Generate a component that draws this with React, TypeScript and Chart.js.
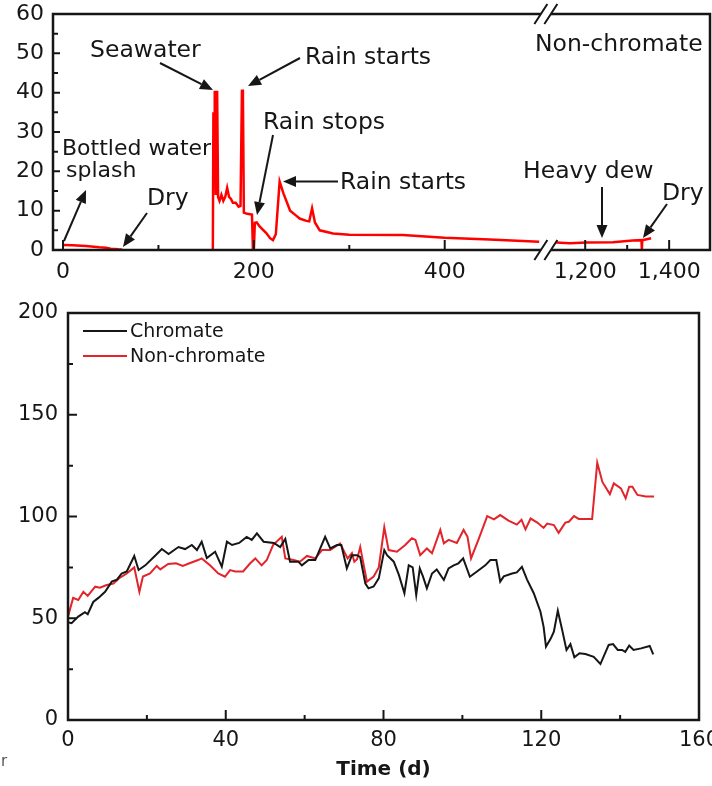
import React, { useEffect, useRef } from "react";
import { Chart, registerables } from "chart.js";

Chart.register(...registerables);

const FONT = '"DejaVu Sans", "Liberation Sans", sans-serif';

// ---------------- Top panel (non-chromate sensor) ----------------
const topDays = [
  0, 10, 24, 38, 45, 50, 58, 62, 100,
  157, 157.6, 158.3, 159, 160, 161.5, 162.5,
  164, 166, 168, 170, 172, 174, 176, 178,
  181, 184, 186, 187.5, 188.5, 189.5, 193, 198, 199, 200,
  201, 203, 206, 213, 217, 220, 223, 227, 231, 238,
  244, 248, 255, 258, 261, 264, 269, 283, 300, 356,
  400, 447, 499, 800,
  1131, 1163, 1203, 1266, 1313, 1334, 1335, 1336, 1357,
];
const topValues = [
  1.3, 1.2, 1.0, 0.7, 0.6, 0.35, 0.2, 0.15, null,
  0, 35, 20, 40.5, 14, 40.5, 13.5,
  12.5, 14, 12.5, 13.5, 15.8, 13.5, 13, 12,
  12, 11, 11.2, 40.5, 40.5, 9.5, 9.2, 9, 0, 0,
  6.9, 7, 6, 4.3, 3, 2.5, 4, 17.4, 14.4, 10,
  8.8, 8, 7.4, 7.3, 10.6, 7, 5, 4.2, 3.9, 3.8,
  3.1, 2.7, 2.1, null,
  1.9, 1.7, 1.9, 2.0, 2.4, 2.5, 0.2, 2.5, 3.0,
];
const topTickDays = [0, 200, 400, 1200, 1400];
const topMinorTickDays = [100, 300, 1300];
const topYMajor = [0, 10, 20, 30, 40, 50, 60];
const topYMinor = [5, 15, 25, 35, 45, 55];

// broken x axis: days up to 500 map 1:1, later days are compressed
const SEG_A_END = 500;
const SEG_B_START_DAY = 1120;
const SEG_B_START_POS = 512;
const SEG_B_SCALE = 0.44;
const BREAK_POS = 506;
const toAxis = (d: number) =>
  d <= SEG_A_END ? d : SEG_B_START_POS + (d - SEG_B_START_DAY) * SEG_B_SCALE;

// ---------------- Bottom panel ----------------
const seriesNames = ["Chromate", "Non-chromate"];
const chromateDays = [
  0, 0.9, 2.6, 4.3, 5, 6.4, 7.7, 9.4, 11.1, 12.4,
  13.6, 14.9, 16.8, 17.9, 19.6, 21.7, 23.8, 25.5, 28, 29.7,
  31.4, 32.7, 33.9, 35.2, 37.3, 39, 40.3, 41.6, 43.4, 45.3,
  46.6, 47.9, 49.6, 52.2, 53.8, 55.1, 56.3, 58.4, 59.3, 61,
  62.7, 65.2, 66.5, 68.2, 69.3, 70.7, 72, 73.3, 74.1, 75.4,
  76.2, 77.5, 78.8, 80.2, 80.9, 82.6, 83.9, 85.3, 86.4, 87.4,
  88.3, 89.2, 90, 91, 92.3, 93.5, 95.3, 96.5, 97.8, 99,
  100.2, 101.9, 103.7, 105.8, 107.1, 108.6, 109.6, 110.5, 112.6, 113.8,
  115.1, 116.4, 118.1, 119.8, 120.6, 121.2, 122.4, 123.2, 124.2, 125.3,
  126.4, 127.4, 128.4, 129.7, 131.2, 133.3, 135, 137.1, 138.2, 139.4,
  140.5, 141.3, 142.3, 143.4, 145.3, 147.5, 148.4,
];
const chromateValues = [
  48, 47.6, 50.8, 53, 52, 58, 60, 63, 68, 69,
  72, 73, 80.6, 73.7, 76, 80, 84, 81.6, 85, 84,
  86, 83.5, 87.6, 79.6, 82.7, 75.3, 87.6, 86, 87, 90,
  88.5, 91.7, 87.6, 87, 85, 89, 77.8, 77.8, 76, 78.6,
  78.6, 90, 84.3, 86, 86, 74.5, 81, 81, 80, 67,
  64.7, 65.6, 69.6, 83.5, 81, 77.8, 71.3, 62.3, 76, 75,
  61.4, 74.5, 70.6, 64.7, 72, 74, 68.8, 74.5, 76, 77,
  79.4, 70.4, 73, 76, 78.6, 78.6, 68, 70.6, 72, 72.5,
  75.3, 69, 62.3, 53.2, 45.8, 36, 40, 43.4, 53.7, 44.3,
  34.4, 37.3, 30.8, 32.8, 32.4, 31, 27.5, 36.9, 37.3, 34.4,
  34.4, 33.5, 36.6, 34.4, 35.2, 36.4, 32.3,
];
const nonChromateDays = [
  0, 1.3, 2.6, 3.9, 5, 6.9, 8.1, 9.8, 11.5, 13.2,
  14.9, 16.8, 18.1, 19, 20.8, 22.5, 23.4, 25.4, 27.4, 29.1,
  30.8, 33, 33.9, 36, 38.1, 39.8, 41.1, 42.4, 44.4, 46.2,
  47.5, 49.1, 50.4, 52, 54.2, 55.1, 57.2, 58.8, 60.6, 62.7,
  64.4, 66.5, 69, 70.9, 72, 72.6, 73.3, 74.1, 75, 75.8,
  77.5, 78.8, 80.2, 81.3, 83.4, 85.5, 87.2, 88.1, 89.3, 91,
  92.3, 94.4, 95.3, 96.5, 98.6, 100.3, 101.3, 102.2, 104.2, 106.3,
  108, 109.6, 111.7, 113.8, 115, 116, 117.3, 119, 120.6, 121.5,
  123.2, 124.4, 126.1, 127, 128.3, 129.5, 132.9, 134.2, 135.5, 137.4,
  138.4, 140.2, 141.4, 142.3, 143.1, 144.4, 146.5, 148.6,
];
const nonChromateValues = [
  50.8, 60, 59, 63, 61, 65.5, 65, 66.3, 67, 70,
  72, 75, 63, 70.5, 72, 75.7, 74, 76.7, 77, 75.7,
  77, 78.6, 79.4, 76, 72, 70.4, 73.7, 73, 73, 77,
  79.4, 76, 78.6, 86, 90, 79.4, 78.6, 77.8, 80.6, 79.4,
  83.5, 83.5, 86.8, 79.4, 82, 77.8, 79, 85, 76, 68,
  70.5, 75, 94.7, 83.5, 82.7, 86, 89.3, 88.5, 81, 84.3,
  81.9, 93.4, 86.8, 88.5, 87, 93.4, 90, 79.4, 89.3, 100.2,
  98.6, 100.7, 98, 96, 98.4, 93.7, 99, 97, 94.4, 96.5,
  95.8, 92, 97, 97.4, 100.2, 98.8, 98.8, 126.4, 117, 111,
  116.3, 113.8, 109, 114.6, 114.6, 110.6, 109.8, 109.8,
];
const bottomXMajor = [0, 40, 80, 120, 160];
const bottomXMinor = [20, 60, 100, 140];
const bottomYMajor = [0, 50, 100, 150, 200];
const bottomYMinor = [25, 75, 125, 175];
const xTitle = "Time (d)";

const BLACK = "#161616";
const RED_TOP = "#ff0000";
const RED_BOTTOM = "#e3242b";

function drawArrow(ctx: CanvasRenderingContext2D, x1: number, y1: number, x2: number, y2: number) {
  const ang = Math.atan2(y2 - y1, x2 - x1);
  const L = 13;
  const W = 5.5;
  const bx = x2 - L * Math.cos(ang);
  const by = y2 - L * Math.sin(ang);
  ctx.beginPath();
  ctx.moveTo(x1, y1);
  ctx.lineTo(bx, by);
  ctx.stroke();
  ctx.beginPath();
  ctx.moveTo(x2, y2);
  ctx.lineTo(bx + W * Math.sin(ang), by - W * Math.cos(ang));
  ctx.lineTo(bx - W * Math.sin(ang), by + W * Math.cos(ang));
  ctx.closePath();
  ctx.fill();
}

function drawTicks(chart: any, xMaj: number[], xMin: number[], yMaj: number[], yMin: number[], lens: number[], map = (v: number) => v) {
  const { ctx, chartArea: a, scales } = chart;
  const xs = scales.x;
  const ys = scales.y;
  ctx.save();
  ctx.strokeStyle = BLACK;
  ctx.lineWidth = 2;
  ctx.beginPath();
  xMaj.forEach((v) => {
    const p = xs.getPixelForValue(map(v));
    ctx.moveTo(p, a.bottom);
    ctx.lineTo(p, a.bottom - lens[0]);
  });
  xMin.forEach((v) => {
    const p = xs.getPixelForValue(map(v));
    ctx.moveTo(p, a.bottom);
    ctx.lineTo(p, a.bottom - lens[1]);
  });
  yMaj.forEach((v) => {
    const p = ys.getPixelForValue(v);
    ctx.moveTo(a.left, p);
    ctx.lineTo(a.left + lens[2], p);
  });
  yMin.forEach((v) => {
    const p = ys.getPixelForValue(v);
    ctx.moveTo(a.left, p);
    ctx.lineTo(a.left + lens[3], p);
  });
  ctx.stroke();
  ctx.restore();
}

const topDecor = {
  id: "topDecor",
  afterDatasetsDraw(chart: any) {
    const { ctx, chartArea: a, scales } = chart;
    const bx = scales.x.getPixelForValue(BREAK_POS);
    ctx.save();
    ctx.strokeStyle = BLACK;
    ctx.fillStyle = BLACK;
    ctx.lineWidth = 2.5;
    ctx.beginPath();
    ctx.moveTo(a.left, a.top - 1.25);
    ctx.lineTo(a.left, a.bottom + 1.25);
    ctx.moveTo(a.right, a.top - 1.25);
    ctx.lineTo(a.right, a.bottom + 1.25);
    [a.top, a.bottom].forEach((yy: number) => {
      ctx.moveTo(a.left, yy);
      ctx.lineTo(bx - 5, yy);
      ctx.moveTo(bx + 5, yy);
      ctx.lineTo(a.right, yy);
    });
    ctx.stroke();
    ctx.lineWidth = 2;
    ctx.beginPath();
    [a.top, a.bottom].forEach((yy: number) => {
      [-5, 5].forEach((off) => {
        ctx.moveTo(bx + off - 6.5, yy + 10);
        ctx.lineTo(bx + off + 6.5, yy - 10);
      });
    });
    ctx.stroke();
    ctx.restore();

    drawTicks(chart, topTickDays, topMinorTickDays, topYMajor, topYMinor, [10, 5, 7, 5], toAxis);

    ctx.save();
    ctx.fillStyle = BLACK;
    ctx.strokeStyle = BLACK;
    ctx.textBaseline = "alphabetic";
    ctx.textAlign = "left";
    ctx.font = `23.5px ${FONT}`;
    ctx.fillText("Seawater", 90, 56.5);
    ctx.fillText("Rain starts", 305, 64);
    ctx.fillText("Rain stops", 263, 129);
    ctx.fillText("Rain starts", 340, 188.5);
    ctx.fillText("Dry", 147, 205);
    ctx.fillText("Heavy dew", 523, 178.3);
    ctx.fillText("Dry", 662, 200);
    ctx.fillText("Non-chromate", 535, 50.7);
    ctx.font = `22px ${FONT}`;
    ctx.fillText("Bottled water", 62, 155);
    ctx.fillText("splash", 66, 177);
    ctx.lineWidth = 2;
    drawArrow(ctx, 160, 63, 213, 90);
    drawArrow(ctx, 300, 58, 248, 86);
    drawArrow(ctx, 273, 135, 257, 215);
    drawArrow(ctx, 338, 181.5, 283, 181.5);
    drawArrow(ctx, 64, 241, 86, 190);
    drawArrow(ctx, 147, 213, 123, 247);
    drawArrow(ctx, 602, 187, 602, 238);
    drawArrow(ctx, 667, 204, 643, 238);
    ctx.restore();
  },
};

const bottomDecor = {
  id: "bottomDecor",
  afterDatasetsDraw(chart: any) {
    const { ctx, chartArea: a } = chart;
    ctx.save();
    ctx.strokeStyle = BLACK;
    ctx.lineWidth = 2.5;
    ctx.strokeRect(a.left, a.top, a.right - a.left, a.bottom - a.top);
    ctx.restore();
    drawTicks(chart, bottomXMajor, bottomXMinor, bottomYMajor, bottomYMinor, [10, 5, 9, 5]);

    ctx.save();
    ctx.font = `19px ${FONT}`;
    ctx.textBaseline = "middle";
    ctx.textAlign = "left";
    const colors = [BLACK, RED_BOTTOM];
    const ys = [41, 66];
    seriesNames.forEach((name, i) => {
      ctx.strokeStyle = colors[i];
      ctx.lineWidth = 2;
      ctx.beginPath();
      ctx.moveTo(83, ys[i]);
      ctx.lineTo(127, ys[i]);
      ctx.stroke();
      ctx.fillStyle = BLACK;
      ctx.fillText(name, 130, ys[i] + 1);
    });
    ctx.font = `15px ${FONT}`;
    ctx.textBaseline = "alphabetic";
    ctx.fillStyle = "#555";
    ctx.fillText("r", 1, 476);
    ctx.restore();
  },
};

export default function App() {
  const topRef = useRef<HTMLCanvasElement>(null);
  const botRef = useRef<HTMLCanvasElement>(null);

  useEffect(() => {
    const topChart = new Chart(topRef.current as HTMLCanvasElement, {
      type: "line",
      data: {
        datasets: [
          {
            label: "Non-chromate",
            data: topDays.map((d, i) => ({ x: toAxis(d), y: topValues[i] as any })),
            borderColor: RED_TOP,
            borderWidth: 2.5,
            pointRadius: 0,
            tension: 0,
            spanGaps: false,
          },
        ],
      },
      options: {
        animation: false,
        responsive: false,
        maintainAspectRatio: false,
        layout: { padding: { top: 14, right: 2, left: 0, bottom: 0 } },
        plugins: { legend: { display: false }, tooltip: { enabled: false } },
        scales: {
          x: {
            type: "linear",
            min: -10.5,
            max: 678,
            grid: { display: false, drawTicks: false },
            border: { display: false },
            afterBuildTicks: (s: any) => {
              s.ticks = topTickDays.map((d) => ({ value: toAxis(d) }));
            },
            afterFit: (s: any) => {
              s.height = 40;
              s.paddingLeft = 0;
              s.paddingRight = 0;
            },
            ticks: {
              autoSkip: false,
              maxRotation: 0,
              padding: 9,
              color: BLACK,
              font: { family: FONT, size: 22 },
              callback: (_v: any, i: number) => topTickDays[i].toLocaleString("en-US"),
            },
          },
          y: {
            type: "linear",
            min: 0,
            max: 60,
            grid: { display: false, drawTicks: false },
            border: { display: false },
            afterFit: (s: any) => {
              s.width = 53;
              s.paddingTop = 0;
              s.paddingBottom = 0;
            },
            ticks: {
              stepSize: 10,
              padding: 9,
              color: BLACK,
              font: { family: FONT, size: 22 },
            },
          },
        },
      },
      plugins: [topDecor],
    } as any);

    const bottomChart = new Chart(botRef.current as HTMLCanvasElement, {
      type: "line",
      data: {
        datasets: [
          {
            label: seriesNames[0],
            data: chromateDays.map((d, i) => ({ x: d, y: chromateValues[i] })),
            borderColor: BLACK,
            borderWidth: 2,
            pointRadius: 0,
            tension: 0,
          },
          {
            label: seriesNames[1],
            data: nonChromateDays.map((d, i) => ({ x: d, y: nonChromateValues[i] })),
            borderColor: RED_BOTTOM,
            borderWidth: 2,
            pointRadius: 0,
            tension: 0,
          },
        ],
      },
      options: {
        animation: false,
        responsive: false,
        maintainAspectRatio: false,
        layout: { padding: { top: 23, right: 13, left: 0, bottom: 0 } },
        plugins: { legend: { display: false }, tooltip: { enabled: false } },
        scales: {
          x: {
            type: "linear",
            min: 0,
            max: 160,
            grid: { display: false, drawTicks: false },
            border: { display: false },
            afterFit: (s: any) => {
              s.height = 66;
              s.paddingLeft = 0;
              s.paddingRight = 0;
            },
            ticks: {
              stepSize: 40,
              autoSkip: false,
              maxRotation: 0,
              padding: 8,
              color: BLACK,
              font: { family: FONT, size: 21 },
            },
            title: {
              display: true,
              text: xTitle,
              color: BLACK,
              font: { family: FONT, size: 20, weight: "bold" },
              padding: { top: 0, bottom: 4 },
            },
          },
          y: {
            type: "linear",
            min: 0,
            max: 200,
            grid: { display: false, drawTicks: false },
            border: { display: false },
            afterFit: (s: any) => {
              s.width = 68;
              s.paddingTop = 0;
              s.paddingBottom = 0;
            },
            ticks: {
              stepSize: 50,
              padding: 10,
              color: BLACK,
              font: { family: FONT, size: 21 },
            },
          },
        },
      },
      plugins: [bottomDecor],
    } as any);

    return () => {
      topChart.destroy();
      bottomChart.destroy();
    };
  }, []);

  return (
    <div
      style={{
        position: "absolute",
        left: 0,
        top: 0,
        width: 712,
        height: 786,
        background: "#fff",
        overflow: "hidden",
      }}
    >
      <canvas
        ref={topRef}
        width={712}
        height={290}
        style={{ position: "absolute", left: 0, top: 0, width: 712, height: 290 }}
      />
      <canvas
        ref={botRef}
        width={712}
        height={496}
        style={{ position: "absolute", left: 0, top: 290, width: 712, height: 496 }}
      />
    </div>
  );
}
